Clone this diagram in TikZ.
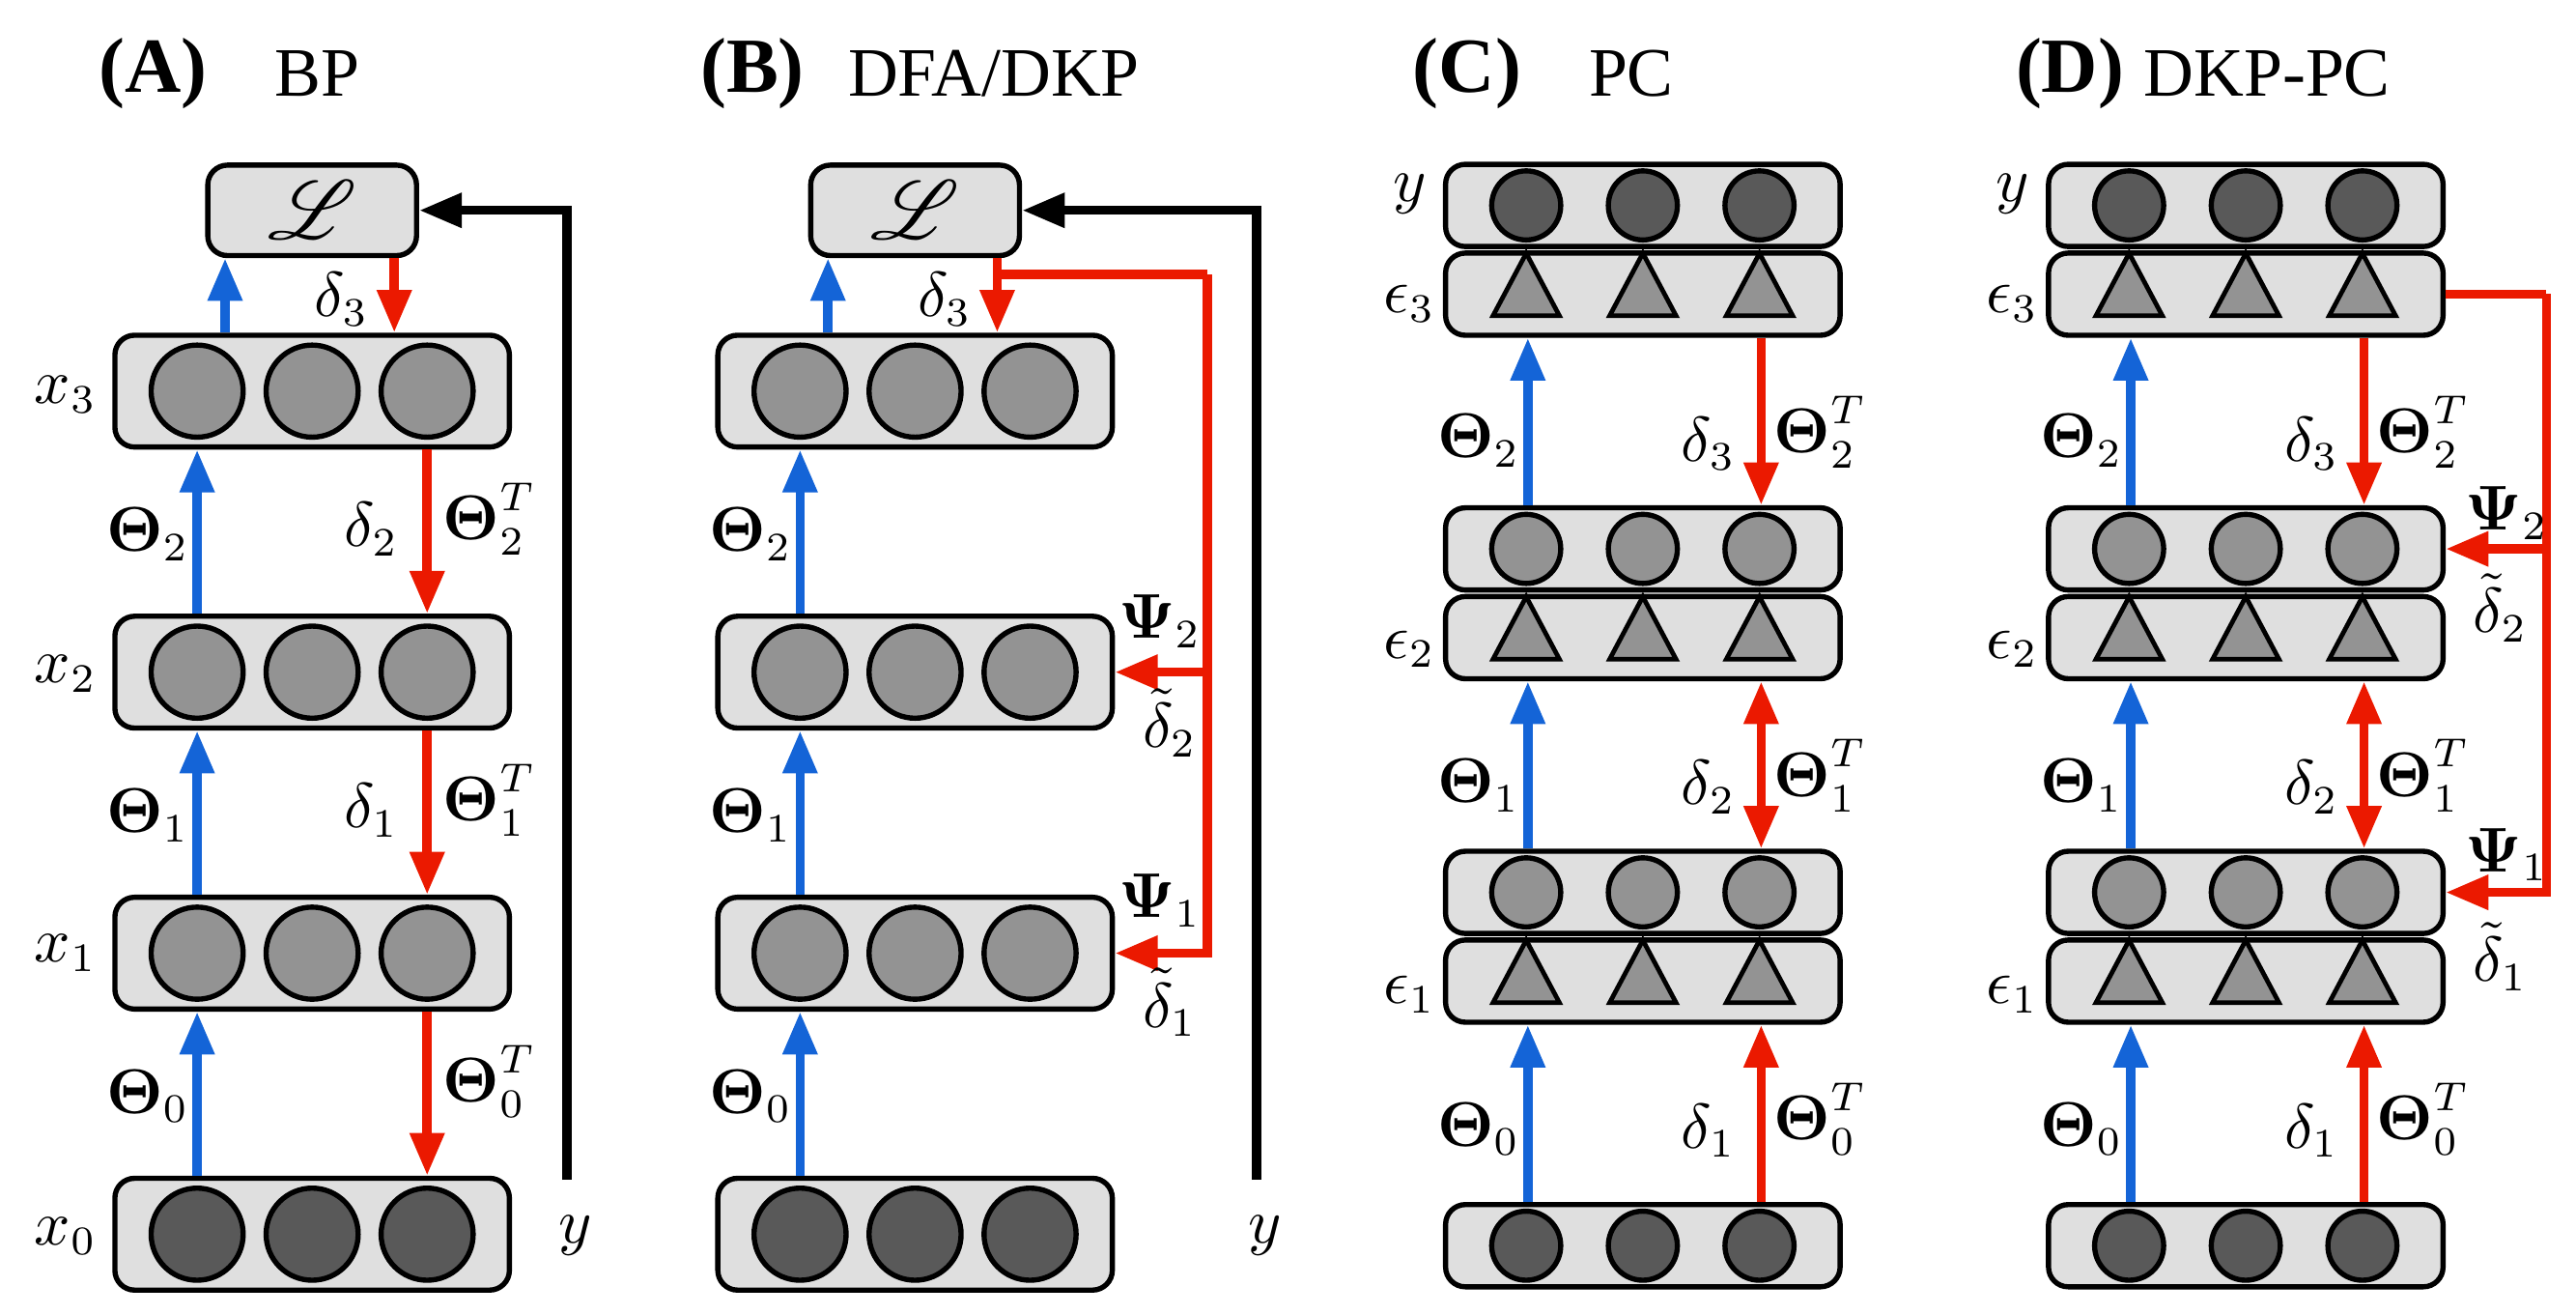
\documentclass[tikz,border=0pt]{standalone}
\usepackage{fontspec}
\setmainfont{Liberation Serif}
\usepackage{amsmath}
\usepackage{mathrsfs}
\usetikzlibrary{arrows.meta}

\tikzset{
  layer/.style={draw,line width=0.9pt,fill=gray!25,rounded corners=0.12cm,minimum width=2.4cm,minimum height=0.68cm,inner sep=0},
  slim/.style={layer,minimum height=0.5cm},
  lossbox/.style={layer,minimum width=1.27cm,minimum height=0.55cm},
  unit/.style={circle,draw,line width=0.9pt,fill=gray!85,minimum size=0.56cm,inner sep=0},
  inunit/.style={unit,fill=black!65},
  sunit/.style={unit,minimum size=0.42cm},
  sinunit/.style={sunit,fill=black!65},
  err/.style={isosceles triangle,isosceles triangle apex angle=56,shape border rotate=90,draw,line width=0.8pt,fill=gray!85,minimum height=0.38cm,inner sep=0},
  tip/.style={-{Triangle[length=0.26cm,width=0.2cm]}},
  fwd/.style={tip,line width=1.6pt,draw={rgb,255:red,20;green,100;blue,215}},
  bwd/.style={tip,line width=1.6pt,draw={rgb,255:red,235;green,25;blue,0}},
  bwdd/.style={bwd,{Triangle[length=0.26cm,width=0.2cm]}-{Triangle[length=0.26cm,width=0.2cm]}},
  tgt/.style={tip,line width=1.6pt,draw=black},
  lab/.style={font=\fontsize{10.5}{12}\selectfont},
  ttl/.style={font=\fontsize{13.5}{15}\selectfont},
  ttlname/.style={font=\fontsize{12}{14}\selectfont}
}
\usetikzlibrary{shapes.geometric}

\begin{document}
\begin{tikzpicture}[x=0.01cm,y=-0.01cm]
\useasboundingbox (0,0) rectangle (1568,800);
% titles
\node[ttl] (tA) at (93,45) {\textbf{(A)}};
\node[ttlname] (nA) at (193,45) {BP};
\node[ttl] (tB) at (458,45) {\textbf{(B)}};
\node[ttlname] (nB) at (605,45) {DFA/DKP};
\node[ttl] (tC) at (893,45) {\textbf{(C)}};
\node[ttlname] (nC) at (993,45) {PC};
\node[ttl] (tD) at (1260,45) {\textbf{(D)}};
\node[ttlname] (nD) at (1380,45) {DKP-PC};

% panels A and B
\foreach \p/\o/\t in {A/0/345,B/367/765} {
  \node[lossbox] (L\p) at (190+\o,128) {\Large$\mathscr{L}$};
  \foreach \i/\yy in {3/238,2/409,1/580,0/751} {
    \node[layer] (x\p\i) at (190+\o,\yy) {};
    \foreach \k/\dx in {1/-70,2/0,3/70} {
      \ifnum\i=0
        \node[inunit] (u\p\i\k) at (190+\o+\dx,\yy) {};
      \else
        \node[unit] (u\p\i\k) at (190+\o+\dx,\yy) {};
      \fi
    }
  }
  \draw[fwd] (xA0.north -| 120+\o,0) -- (x\p1.south -| 120+\o,0);
  \draw[fwd] (x\p1.north -| 120+\o,0) -- (x\p2.south -| 120+\o,0);
  \draw[fwd] (x\p2.north -| 120+\o,0) -- (x\p3.south -| 120+\o,0);
  \draw[fwd] (x\p3.north -| 137+\o,0) -- (L\p.south -| 137+\o,0);
  \draw[bwd] (L\p.south -| 240+\o,0) -- (x\p3.north -| 240+\o,0);
  \node[lab] (d3\p) at (208+\o,182) {$\delta_3$};
  \node[lab] (th2\p) at (90+\o,325) {$\boldsymbol{\Theta}_2$};
  \node[lab] (th1\p) at (90+\o,496) {$\boldsymbol{\Theta}_1$};
  \node[lab] (th0\p) at (90+\o,667) {$\boldsymbol{\Theta}_0$};
  \coordinate (yb\p) at (\t,718);
  \node[lab] (y\p) at (\t+5,752) {$y$};
  \draw[tgt] (yb\p) |- (L\p.east);
}
% A: backprop chain
\draw[bwd] (xA3.south -| 260,0) -- (xA2.north -| 260,0);
\draw[bwd] (xA2.south -| 260,0) -- (xA1.north -| 260,0);
\draw[bwd] (xA1.south -| 260,0) -- (xA0.north -| 260,0);
\node[lab] (d2A) at (226,322) {$\delta_2$};
\node[lab] (d1A) at (226,493) {$\delta_1$};
\node[lab] (T2A) at (298,316) {$\boldsymbol{\Theta}_2^T$};
\node[lab] (T1A) at (298,487) {$\boldsymbol{\Theta}_1^T$};
\node[lab] (T0A) at (298,658) {$\boldsymbol{\Theta}_0^T$};
\node[lab] (x3l) at (40,240) {$x_3$};
\node[lab] (x2l) at (40,410) {$x_2$};
\node[lab] (x1l) at (40,580) {$x_1$};
\node[lab] (x0l) at (40,752) {$x_0$};
% B: direct feedback
\coordinate (fbB) at (735,167);
\draw[bwd,-] (LB.south -| 607,0) -- (607,167) -- (fbB);
\draw[bwd] (fbB) |- (xB1.east);
\draw[bwd] (xB2.east -| fbB) -- (xB2.east);
\node[lab] (P2B) at (706,378) {$\boldsymbol{\Psi}_2$};
\node[lab] (e2B) at (712,440) {$\tilde{\delta}_2$};
\node[lab] (P1B) at (706,548) {$\boldsymbol{\Psi}_1$};
\node[lab] (e1B) at (712,610) {$\tilde{\delta}_1$};

% panels C and D
\foreach \p/\o in {C/0,D/367} {
  \foreach \n/\yy in {y/125,v2/334,v1/543,v0/758} {
    \node[slim] (\n\p) at (1000+\o,\yy) {};
    \foreach \k/\dx in {1/-71,2/0,3/71} {
      \ifnum\yy=334 \node[sunit] at (1000+\o+\dx,\yy) {};
      \else\ifnum\yy=543 \node[sunit] at (1000+\o+\dx,\yy) {};
      \else \node[sinunit] at (1000+\o+\dx,\yy) {};
      \fi\fi
    }
  }
  \foreach \n/\yy in {e3/179,e2/388,e1/597} {
    \node[slim] (\n\p) at (1000+\o,\yy) {};
    \foreach \k/\dx in {1/-71,2/0,3/71}
      \node[err] at (1000+\o+\dx,\yy+1) {};
  }
  \draw[fwd] (v2\p.north -| 930+\o,0) -- (e3\p.south -| 930+\o,0);
  \draw[fwd] (v1\p.north -| 930+\o,0) -- (e2\p.south -| 930+\o,0);
  \draw[fwd] (v0\p.north -| 930+\o,0) -- (e1\p.south -| 930+\o,0);
  \draw[bwd] (e3\p.south -| 1072+\o,0) -- (v2\p.north -| 1072+\o,0);
  \draw[bwdd] (e2\p.south -| 1072+\o,0) -- (v1\p.north -| 1072+\o,0);
  \draw[bwd] (v0\p.north -| 1072+\o,0) -- (e1\p.south -| 1072+\o,0);
  \node[lab] (yl\p) at (858+\o,118) {$y$};
  \node[lab] (el3\p) at (858+\o,185) {$\epsilon_3$};
  \node[lab] (el2\p) at (858+\o,395) {$\epsilon_2$};
  \node[lab] (el1\p) at (858+\o,605) {$\epsilon_1$};
  \node[lab] (th2\p) at (900+\o,268) {$\boldsymbol{\Theta}_2$};
  \node[lab] (th1\p) at (900+\o,478) {$\boldsymbol{\Theta}_1$};
  \node[lab] (th0\p) at (900+\o,687) {$\boldsymbol{\Theta}_0$};
  \node[lab] (d3\p) at (1040+\o,270) {$\delta_3$};
  \node[lab] (d2\p) at (1040+\o,479) {$\delta_2$};
  \node[lab] (d1\p) at (1040+\o,688) {$\delta_1$};
  \node[lab] (T2\p) at (1108+\o,263) {$\boldsymbol{\Theta}_2^T$};
  \node[lab] (T1\p) at (1108+\o,472) {$\boldsymbol{\Theta}_1^T$};
  \node[lab] (T0\p) at (1108+\o,681) {$\boldsymbol{\Theta}_0^T$};
}
% D: direct feedback from top error
\coordinate (fbD) at (1550,179);
\draw[bwd,-] (e3D.east) -- (fbD);
\draw[bwd] (fbD) |- (v1D.east);
\draw[bwd] (v2D.east -| fbD) -- (v2D.east);
\node[lab] (P2D) at (1526,312) {$\boldsymbol{\Psi}_2$};
\node[lab] (e2D) at (1522,370) {$\tilde{\delta}_2$};
\node[lab] (P1D) at (1526,520) {$\boldsymbol{\Psi}_1$};
\node[lab] (e1D) at (1522,582) {$\tilde{\delta}_1$};
\end{tikzpicture}
\end{document}
